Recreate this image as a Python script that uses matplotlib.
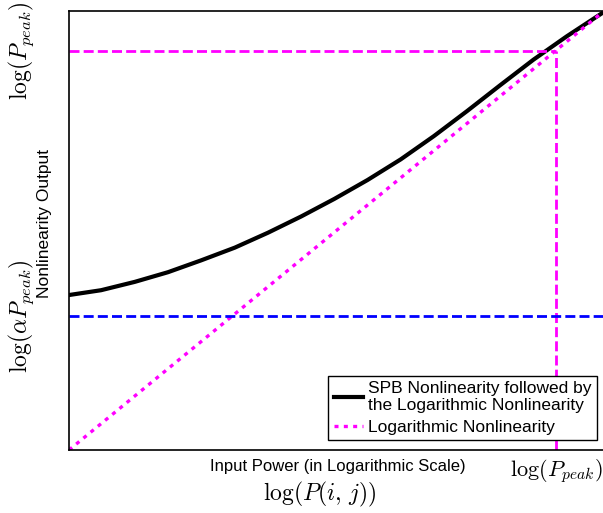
import numpy as np
import matplotlib.pyplot as plt

plt.rcParams['font.family'] = ['Liberation Sans', 'DejaVu Sans']
plt.rcParams['mathtext.fontset'] = 'cm'

# normalised log-input / log-output
x_spb = [0.0, 0.060, 0.123, 0.185, 0.247, 0.310, 0.372, 0.434, 0.496, 0.558,
         0.620, 0.682, 0.744, 0.806, 0.868, 0.930, 1.0]
y_spb = [0.353, 0.364, 0.383, 0.405, 0.432, 0.461, 0.495, 0.532, 0.572, 0.615,
         0.662, 0.715, 0.772, 0.831, 0.889, 0.942, 0.998]
x_log = [0.0, 1.0]
y_log = [0.0, 1.0]
log_peak = 0.91
log_alpha_peak = 0.305

fig = plt.figure(figsize=(6.03, 5.13), dpi=100)
ax = fig.add_axes([69 / 603, 63 / 513, 535 / 603, 439 / 513])

ax.plot(x_spb, y_spb, color='black', lw=3.0,
        label='SPB Nonlinearity followed by\nthe Logarithmic Nonlinearity')
ax.plot(x_log, y_log, color='magenta', lw=2.4, ls=(0, (1.2, 1.6)),
        label='Logarithmic Nonlinearity')
ax.plot([0, log_peak], [log_peak, log_peak], color='magenta', lw=2.0, ls=(0, (3.6, 1.5)))
ax.plot([log_peak, log_peak], [0, log_peak], color='magenta', lw=2.0, ls=(0, (3.6, 1.5)))
ax.axhline(log_alpha_peak, color='blue', lw=2.0, ls=(0, (3.6, 1.5)))

ax.set_xlim(0, 1.0)
ax.set_ylim(0, 1.0)
ax.spines['right'].set_visible(False)
for s in ['left', 'top', 'bottom']:
    ax.spines[s].set_linewidth(1.2)

ax.set_xticks([log_peak])
ax.set_xticklabels([r'$\log(P_{peak})$'], fontsize=16)
ax.set_yticks([log_alpha_peak, log_peak])
ax.set_yticklabels([r'$\log(\alpha P_{peak})$', r'$\log(P_{peak})$'],
                   fontsize=17, rotation=90, va='center')
ax.tick_params(axis='y', length=0, pad=24)
ax.tick_params(axis='x', length=0, pad=5)

ax.set_ylabel('Nonlinearity Output', fontsize=12.5)
ax.yaxis.set_label_coords(-0.031, 0.515)

fig.text(338 / 603, 1 - 466 / 513, 'Input Power (in Logarithmic Scale)',
         fontsize=12, ha='center', va='center')
fig.text(320 / 603, 1 - 494 / 513, r'$\log(P(i,\,j))$',
         fontsize=17, ha='center', va='center')

leg = ax.legend(loc='lower right', bbox_to_anchor=(0.987, 0.023), fontsize=12.5,
                fancybox=False, framealpha=1, edgecolor='black',
                handlelength=1.7, handletextpad=0.3, borderpad=0.3,
                labelspacing=0.35, borderaxespad=0)
leg.get_frame().set_linewidth(1.0)

fig.savefig('out.png', dpi=100)
